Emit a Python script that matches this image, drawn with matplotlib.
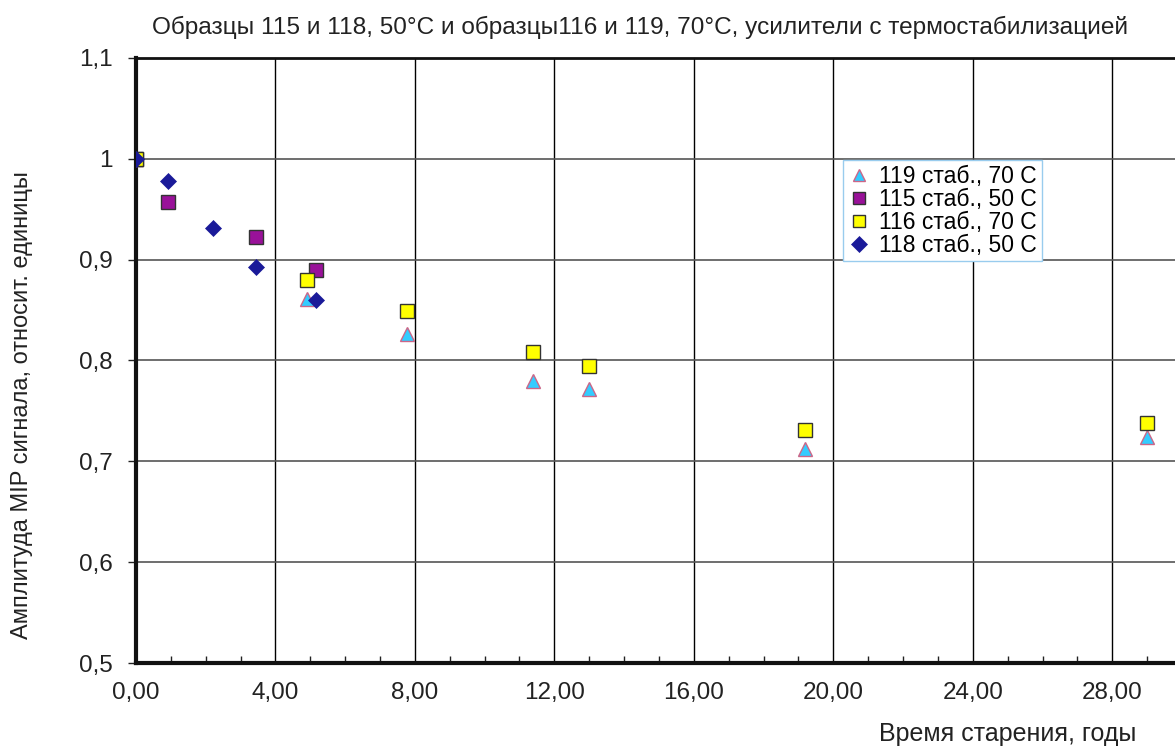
import matplotlib
matplotlib.use('Agg')
import matplotlib.pyplot as plt
from matplotlib.ticker import MultipleLocator, FixedLocator

plt.rcParams['font.family'] = ['Liberation Sans', 'DejaVu Sans']

# Data
x_119 = [0.0, 4.9, 7.77, 11.4, 13.0, 19.2, 29.0]
y_119 = [1.0, 0.861, 0.826, 0.780, 0.772, 0.712, 0.724]

x_115 = [0.0, 0.92, 3.44, 5.16]
y_115 = [1.0, 0.957, 0.922, 0.890]

x_116 = [0.0, 4.9, 7.77, 11.4, 13.0, 19.2, 29.0]
y_116 = [1.0, 0.880, 0.849, 0.808, 0.795, 0.731, 0.738]

x_118 = [0.0, 0.92, 2.2, 3.44, 5.16]
y_118 = [1.0, 0.978, 0.931, 0.893, 0.860]

x_ticks = [0, 4, 8, 12, 16, 20, 24, 28]
x_tick_labels = ['0,00', '4,00', '8,00', '12,00', '16,00', '20,00', '24,00', '28,00']
y_ticks = [0.5, 0.6, 0.7, 0.8, 0.9, 1.0, 1.1]
y_tick_labels = ['0,5', '0,6', '0,7', '0,8', '0,9', '1', '1,1']

fig = plt.figure(figsize=(11.75, 7.49), dpi=100)
ax = fig.add_axes([0.1157, 0.1148, 0.8843, 0.8078])

ax.plot(x_119, y_119, linestyle='none', marker='^', ms=10, mfc='#33CCFF',
        mec='#CC6688', mew=1.0, label='119 стаб., 70 С', zorder=3)
ax.plot(x_115, y_115, linestyle='none', marker='s', ms=9.5, mfc='#991199',
        mec='#333333', mew=1.0, label='115 стаб., 50 С', zorder=4)
ax.plot(x_116, y_116, linestyle='none', marker='s', ms=9.5, mfc='#FFFF00',
        mec='#333333', mew=1.0, label='116 стаб., 70 С', zorder=5)
ax.plot(x_118, y_118, linestyle='none', marker='D', ms=8, mfc='#1A1A99',
        mec='#1A1A99', mew=0.5, label='118 стаб., 50 С', zorder=6)

ax.set_xlim(0, 29.8)
ax.set_ylim(0.5, 1.1)

ax.xaxis.set_major_locator(FixedLocator(x_ticks))
ax.set_xticklabels(x_tick_labels)
ax.xaxis.set_minor_locator(MultipleLocator(1))
ax.yaxis.set_major_locator(FixedLocator(y_ticks))
ax.set_yticklabels(y_tick_labels)

ax.grid(True, axis='x', which='major', color='black', linewidth=1.0)
ax.grid(True, axis='y', which='major', color='#555555', linewidth=1.2)

ax.tick_params(axis='y', which='major', direction='out', length=6, width=1,
               labelsize=17.5, pad=11, colors='#222222')
ax.tick_params(axis='x', which='major', direction='in', length=0,
               labelsize=17.5, pad=14, colors='#222222')
ax.tick_params(axis='x', which='minor', direction='in', length=5, width=1,
               colors='#222222')

ax.spines['left'].set_linewidth(3)
ax.spines['bottom'].set_linewidth(3)
ax.spines['top'].set_linewidth(2)
ax.spines['right'].set_visible(False)
for s in ax.spines.values():
    s.set_color('#111111')

fig.text(0.545, 0.964, 'Образцы 115 и 118, 50°C и образцы116 и 119, 70°C, усилители с термостабилизацией',
         ha='center', va='center', fontsize=17.6, color='#222222')
fig.text(0.858, 0.004, 'Время старения, годы', ha='center', va='bottom',
         fontsize=18, color='#222222')
fig.text(0.019, 0.459, 'Амплитуда MIP сигнала, относит. единицы', ha='center',
         va='center', rotation=90, fontsize=17, color='#222222')

leg = ax.legend(loc='upper left', bbox_to_anchor=(0.680, 0.831), fontsize=16.5,
                frameon=True, fancybox=False, framealpha=1.0, handletextpad=0.4,
                handlelength=1.0, borderpad=0.2, borderaxespad=0, labelspacing=0.0)
leg.get_frame().set_edgecolor('#99CCEE')
leg.get_frame().set_linewidth(1.0)
for h in leg.legend_handles:
    h.set_markersize(8)

fig.savefig('out.png', dpi=100)
